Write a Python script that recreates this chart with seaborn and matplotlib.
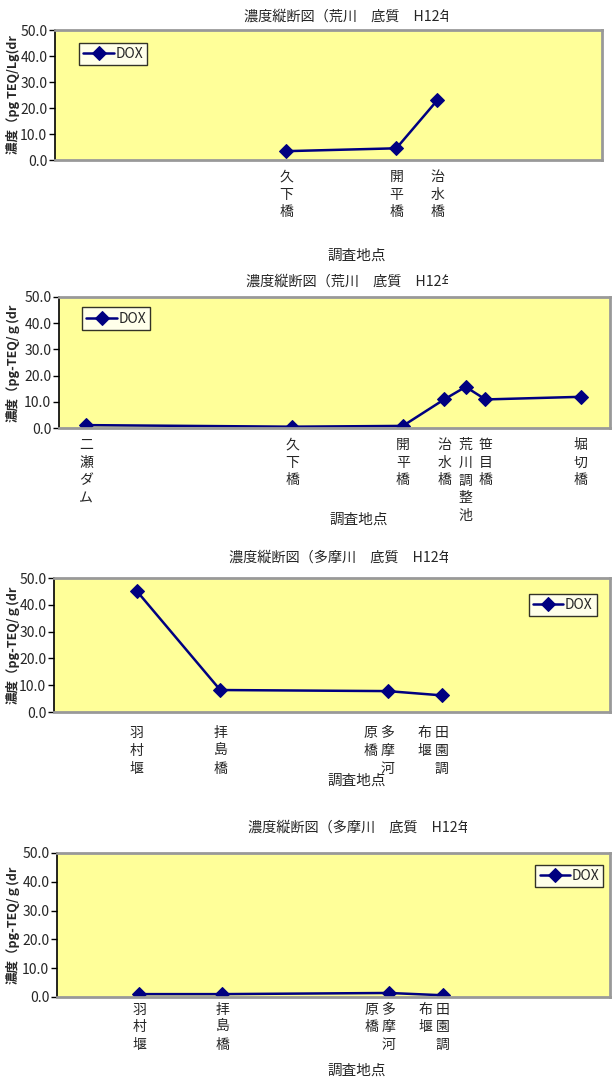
import matplotlib
matplotlib.use('Agg')
import matplotlib.pyplot as plt
import seaborn as sns
import pandas as pd
from matplotlib.transforms import Bbox, TransformedBbox, ScaledTranslation

sns.set_style("white")
plt.rcParams['font.family'] = ['Noto Sans CJK JP', 'DejaVu Sans']

# 荒川 sites (position along the chart axis, 0-100)
arakawa1_sites = ['久下橋', '開平橋', '治水橋']
arakawa1_pos = [42.3, 62.4, 69.9]
arakawa1_dox = [3.4, 4.5, 23.0]

arakawa2_sites = ['二瀬ダム', '久下橋', '開平橋', '治水橋', '荒川調整池', '笹目橋', '堀切橋']
arakawa2_pos = [4.9, 42.3, 62.4, 69.9, 73.8, 77.4, 94.7]
arakawa2_dox = [1.1, 0.5, 0.8, 10.9, 15.7, 10.9, 11.9]

# 多摩川 sites
tama_sites = ['羽村堰', '拝島橋', '多摩河原橋', '田園調布堰']
tama_pos = [14.9, 29.9, 60.0, 69.8]
tama1_dox = [45.1, 8.2, 7.8, 6.2]
tama2_dox = [1.0, 1.0, 1.4, 0.6]

titles = ['濃度縦断図（荒川　底質　H12年度）',
          '濃度縦断図（荒川　底質　H12年度）',
          '濃度縦断図（多摩川　底質　H12年度）',
          '濃度縦断図（多摩川　底質　H12年度）']
ylabels = ['濃度（pg TEQ/Lg(dr', '濃度（pg-TEQ/ｇ(dr', '濃度（pg-TEQ/ｇ(dr', '濃度（pg-TEQ/ｇ(dr']

W, H = 612, 1082
fig = plt.figure(figsize=(W / 100, H / 100), dpi=100)


def vertical(name, rows):
    # stack characters top-to-bottom, columns running right-to-left
    cols = [name[i:i + rows] for i in range(0, len(name), rows)]
    n = min(rows, len(name))
    lines = []
    for r in range(n):
        lines.append(' '.join(c[r] if r < len(c) else '\u3000' for c in reversed(cols)))
    return '\n'.join(lines)


# panel geometry in pixels: left, right, top, bottom
panels = [
    dict(box=(55, 602, 30, 160), sites=arakawa1_sites, pos=arakawa1_pos, dox=arakawa1_dox,
         rows=5, pad=7, leg=('upper left', (0.044, 0.90)), title_xy=(244, 17), clip=448,
         xl=(0.552, -0.68)),
    dict(box=(59, 610, 297, 428), sites=arakawa2_sites, pos=arakawa2_pos, dox=arakawa2_dox,
         rows=5, pad=7, leg=('upper left', (0.042, 0.92)), title_xy=(246, 282), clip=448,
         xl=(0.544, -0.65)),
    dict(box=(54, 610, 578, 712), sites=tama_sites, pos=tama_pos, dox=tama1_dox,
         rows=3, pad=10, leg=('upper right', (0.976, 0.88)), title_xy=(229, 558), clip=448,
         xl=(0.545, -0.46)),
    dict(box=(57, 610, 853, 997), sites=tama_sites, pos=tama_pos, dox=tama2_dox,
         rows=3, pad=4, leg=('upper right', (0.988, 0.92)), title_xy=(248, 828), clip=467,
         xl=(0.542, -0.46)),
]

for i, p in enumerate(panels):
    l, r, t, b = p['box']
    ax = fig.add_axes([l / W, 1 - b / H, (r - l) / W, (b - t) / H])
    ax.set_facecolor('#FFFF99')

    df = pd.DataFrame({'pos': p['pos'], 'DOX': p['dox']})
    sns.lineplot(data=df, x='pos', y='DOX', ax=ax, color='#000080', marker='D',
                 markersize=7, markeredgecolor='#000080', linewidth=1.8, label='DOX')

    ax.set_xlim(0, 100)
    ax.set_ylim(0, 50)
    ax.set_yticks([0, 10, 20, 30, 40, 50])
    ax.set_yticklabels([f'{v:.1f}' for v in [0, 10, 20, 30, 40, 50]])
    ax.tick_params(axis='y', left=True, length=4, width=1, color='black',
                   labelsize=10, pad=1.5)

    ax.set_xticks(p['pos'])
    ax.set_xticklabels([vertical(s, p['rows']) for s in p['sites']],
                       fontsize=10, linespacing=1.35, multialignment='left')
    ax.tick_params(axis='x', bottom=False, length=0, pad=p['pad'])
    for s, lab in zip(p['sites'], ax.get_xticklabels()):
        if len(s) > p['rows']:
            lab.set_transform(lab.get_transform() +
                              ScaledTranslation(-0.085, 0, fig.dpi_scale_trans))

    for side in ['top', 'right', 'bottom']:
        ax.spines[side].set_color('#999999')
        ax.spines[side].set_linewidth(2)
    ax.spines['left'].set_color('black')
    ax.spines['left'].set_linewidth(1.2)

    ax.set_xlabel('調査地点', fontsize=10.5)
    ax.xaxis.set_label_coords(*p['xl'])
    ax.set_ylabel(ylabels[i], fontsize=9, fontweight='bold')
    ax.yaxis.set_label_coords(-(l - 20) / (r - l), 0.5)

    tx, ty = p['title_xy']
    title = fig.text(tx / W, 1 - ty / H, titles[i], fontsize=10.2, ha='left', va='center')
    title.set_clip_box(TransformedBbox(Bbox.from_extents(0, 0, p['clip'] / W, 1),
                                       fig.transFigure))
    title.set_clip_on(True)

    loc, anchor = p['leg']
    leg = ax.legend(loc=loc, bbox_to_anchor=anchor, fontsize=10, frameon=True,
                    fancybox=False, shadow=False, borderpad=0.3, handlelength=2.2,
                    handletextpad=0.1, borderaxespad=0)
    leg.get_frame().set_edgecolor('black')
    leg.get_frame().set_linewidth(1)
    leg.get_frame().set_facecolor('white')

fig.savefig('out.png', dpi=100)
